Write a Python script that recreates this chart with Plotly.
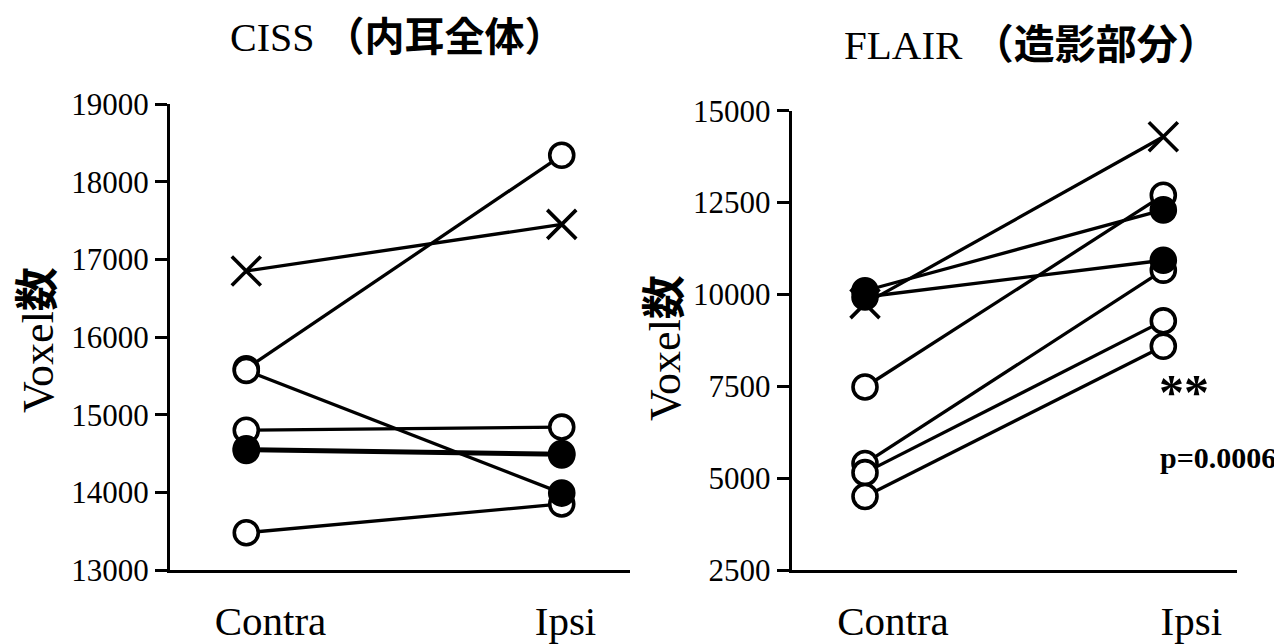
import plotly.graph_objects as go

# ---------------- data ----------------
categories = ["Contra", "Ipsi"]

# CISS (inner ear total)
ciss_contra = [16850, 15590, 15570, 14800, 14560, 14540, 13480]
ciss_ipsi = [17450, 18340, 13990, 14840, 14500, 14480, 13850]
ciss_contra_kind = ["x", "open", "open", "open", "filled", "filled", "open"]
ciss_ipsi_kind = ["x", "open", "filled", "open", "filled", "filled", "open"]

# FLAIR (enhanced part)
flair_contra = [9750, 10100, 9930, 7480, 5400, 5150, 4500]
flair_ipsi = [14290, 12300, 10930, 12700, 10660, 9280, 8590]
flair_contra_kind = ["x", "filled", "filled", "open", "open", "open", "open"]
flair_ipsi_kind = ["x", "filled", "filled", "open", "open", "open", "open"]

ciss_ticks = [13000, 14000, 15000, 16000, 17000, 18000, 19000]
flair_ticks = [2500, 5000, 7500, 10000, 12500, 15000]

# ---------------- styling ----------------
OFF = 8  # page body margin
W, H = 1282 - OFF, 644 - OFF
SERIF = "Liberation Serif, Times New Roman, Noto Sans CJK JP"
BLACK = "#000000"
NB = "\u00a0"


def xp(px):
    return (px - OFF) / W


def yp(py):
    return 1 - (py - OFF) / H


fig = go.Figure()


def add_panel(contra, ipsi, ck, ik, xref, yref):
    for c, i in zip(contra, ipsi):
        fig.add_trace(go.Scatter(
            x=categories, y=[c, i], mode="lines",
            line=dict(color=BLACK, width=3.3),
            xaxis=xref, yaxis=yref, showlegend=False, hoverinfo="skip"))
    pts = [(categories[0], v, k) for v, k in zip(contra, ck)] + \
          [(categories[1], v, k) for v, k in zip(ipsi, ik)]
    styles = {
        "x": dict(symbol="x-thin", size=29, color=BLACK,
                  line=dict(color=BLACK, width=3.6)),
        "open": dict(symbol="circle", size=24, color="white",
                     line=dict(color=BLACK, width=3.6)),
        "filled": dict(symbol="circle", size=24, color=BLACK,
                       line=dict(color=BLACK, width=3.6)),
    }
    for kind in ["x", "open", "filled"]:
        xs = [p[0] for p in pts if p[2] == kind]
        ys = [p[1] for p in pts if p[2] == kind]
        if xs:
            fig.add_trace(go.Scatter(
                x=xs, y=ys, mode="markers", marker=styles[kind],
                xaxis=xref, yaxis=yref, showlegend=False, hoverinfo="skip"))


add_panel(ciss_contra, ciss_ipsi, ciss_contra_kind, ciss_ipsi_kind, "x", "y")
add_panel(flair_contra, flair_ipsi, flair_contra_kind, flair_ipsi_kind, "x2", "y2")

xcommon = dict(
    type="category", showline=True, linecolor=BLACK, linewidth=3,
    ticks="", showgrid=False, zeroline=False, automargin=False,
    tickfont=dict(family=SERIF, size=41, color=BLACK),
    categoryorder="array", categoryarray=categories,
    tickmode="array", tickvals=categories,
)
ycommon = dict(
    showline=True, linecolor=BLACK, linewidth=3,
    ticks="outside", ticklen=12, tickwidth=3, tickcolor=BLACK,
    showgrid=False, zeroline=False, automargin=False,
    tickfont=dict(family=SERIF, size=31, color=BLACK),
)

fig.update_layout(
    width=W, height=H, autosize=False,
    margin=dict(l=0, r=0, t=0, b=0, autoexpand=False),
    paper_bgcolor="white", plot_bgcolor="white",
    xaxis=dict(xcommon, domain=[xp(170), xp(630)], anchor="y",
               range=[-0.2418, 1.2164], ticklabelshift=14, ticklabelstandoff=13,
               ticktext=[NB * 2 + categories[0], categories[1] + NB * 2]),
    yaxis=dict(ycommon, domain=[yp(570), yp(104)], anchor="x",
               range=[13000, 19000], tickvals=ciss_ticks,
               ticktext=[str(t) for t in ciss_ticks]),
    xaxis2=dict(xcommon, domain=[xp(791.7), xp(1236.7)], anchor="y2",
                range=[-0.2457, 1.246], ticklabelshift=28, ticklabelstandoff=13,
                ticktext=categories),
    yaxis2=dict(ycommon, domain=[yp(570), yp(110.7)], anchor="x2",
                range=[2500, 15000], tickvals=flair_ticks,
                ticktext=[str(t) for t in flair_ticks]),
)

ann_font = dict(family=SERIF, color=BLACK)
fig.add_annotation(text="CISS <b>（内耳全体）</b>", xref="paper", yref="paper",
                   x=xp(397), y=yp(37), showarrow=False,
                   font=dict(ann_font, size=40), xanchor="center", yanchor="middle")
fig.add_annotation(text="FLAIR <b>（造影部分）</b>", xref="paper", yref="paper",
                   x=xp(1031), y=yp(45), showarrow=False,
                   font=dict(ann_font, size=41), xanchor="center", yanchor="middle")
fig.add_annotation(text="Voxel<b>数</b>", xref="paper", yref="paper",
                   x=xp(38), y=yp(340), showarrow=False, textangle=-90,
                   font=dict(ann_font, size=44), xanchor="center", yanchor="middle")
fig.add_annotation(text="Voxel<b>数</b>", xref="paper", yref="paper",
                   x=xp(665), y=yp(348), showarrow=False, textangle=-90,
                   font=dict(ann_font, size=44), xanchor="center", yanchor="middle")
fig.add_annotation(text="<b>**</b>", xref="paper", yref="paper",
                   x=xp(1184), y=yp(392), showarrow=False,
                   font=dict(ann_font, size=50), xanchor="center", yanchor="middle")
fig.add_annotation(text="<b>p=0.0006</b>", xref="paper", yref="paper",
                   x=xp(1218), y=yp(458), showarrow=False,
                   font=dict(ann_font, size=30), xanchor="center", yanchor="middle")

fig.write_html("out.html")
